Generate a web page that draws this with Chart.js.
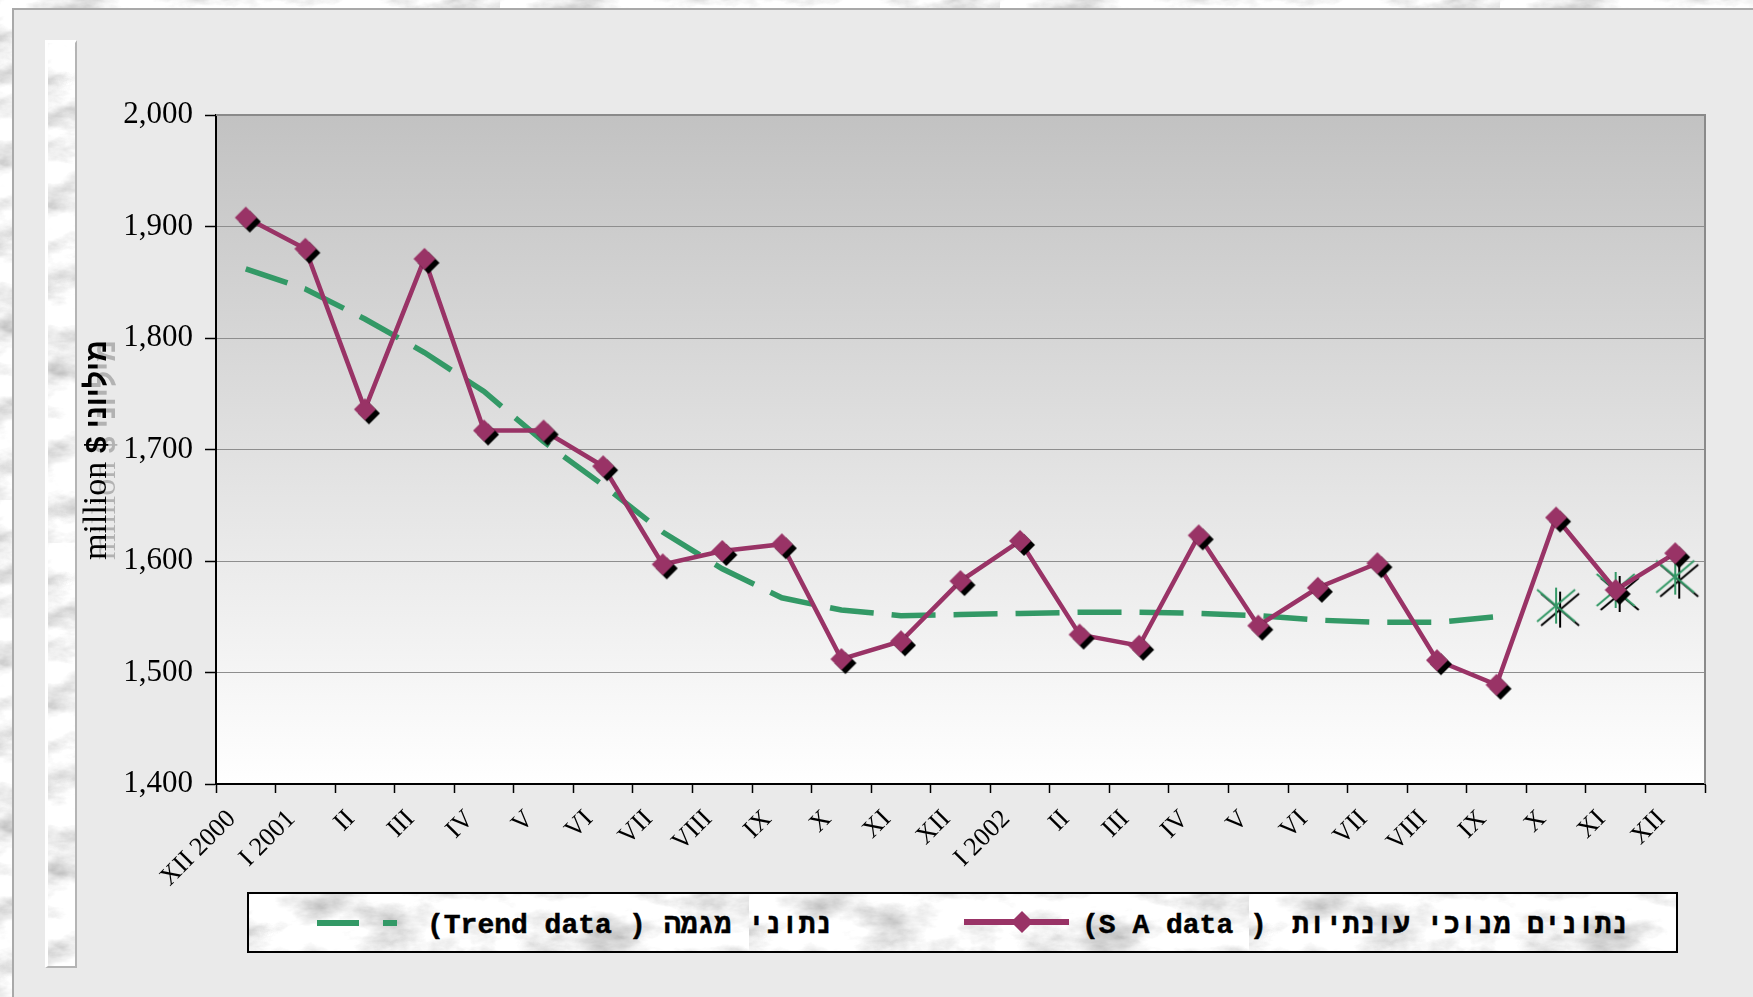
<!DOCTYPE html>
<html>
<head>
<meta charset="utf-8">
<script src="https://cdn.jsdelivr.net/npm/chart.js@4.4.0/dist/chart.umd.min.js"></script>
<style>
html, body { margin: 0; padding: 0; width: 1753px; height: 997px; overflow: hidden; background: #eaeaea; }
.marble { background-color: #d8d8d8; }
#stripL { position: absolute; left: 0; top: 0; width: 12px; height: 997px; }
#stripT { position: absolute; left: 0; top: 0; width: 1753px; height: 8px; }
#panel { position: absolute; left: 12px; top: 8px; right: 0; bottom: 0; border-left: 2px solid #a9a9a9; border-top: 2px solid #a9a9a9; background: #eaeaea; }
#bar { position: absolute; left: 45px; top: 40px; width: 27px; height: 923px; border-left: 3px solid #fff; border-top: 3px solid #fff; border-right: 2px solid #b4b4b4; border-bottom: 2px solid #b4b4b4; }
#legend { position: absolute; left: 247px; top: 892px; width: 1427px; height: 57px; border: 2px solid #000; }
#legend span { position: absolute; top: 3px; font: bold 28px "Liberation Mono", monospace; line-height: 57px; color: #000; white-space: pre; -webkit-text-stroke: 0.5px #000; }
#legend svg { position: absolute; }
#chart { position: absolute; left: 0; top: 0; }
</style>
</head>
<body>
<div id="stripL" class="marble"></div>
<div id="stripT" class="marble"></div>
<div id="panel"></div>
<div id="bar" class="marble"></div>
<div id="legend" class="marble">
  <svg style="left:68px;top:19px" width="82" height="20"><line x1="0" y1="10" x2="80" y2="10" stroke="#339966" stroke-width="6" stroke-dasharray="42 24"/></svg>
  <span id="lgTrendEn" style="left:178px"></span>
  <span style="left:380px">)</span>
  <span id="lgTrendHe" style="left:415px" dir="rtl"></span>
  <svg style="left:715px;top:13px" width="108" height="30"><line x1="0" y1="15" x2="105" y2="15" stroke="#993366" stroke-width="6"/><polygon points="58,4 69,15 58,26 47,15" fill="#993366"/></svg>
  <span id="lgSAEn" style="left:833px"></span>
  <span style="left:1001px">)</span>
  <span id="lgSAHe" style="left:1043px" dir="rtl"></span>
</div>
<canvas id="chart" width="1753" height="997"></canvas>
<script>
// נתונים
var months = ['XII 2000', 'I 2001', 'II', 'III', 'IV', 'V', 'VI', 'VII', 'VIII', 'IX', 'X', 'XI', 'XII',
              'I 2002', 'II', 'III', 'IV', 'V', 'VI', 'VII', 'VIII', 'IX', 'X', 'XI', 'XII'];
var saData = [1908, 1880, 1736, 1871, 1717, 1717, 1685, 1597, 1609, 1615, 1512, 1528, 1582,
              1618, 1534, 1524, 1623, 1542, 1576, 1598, 1511, 1489, 1639, 1574, 1607];
var trendData = [1862, 1844, 1817, 1787, 1752, 1707, 1668, 1626, 1593, 1567, 1556, 1551, 1552,
                 1553, 1554, 1554, 1553, 1551, 1547, 1545, 1545, 1550, null, null, null];
var trendLast = [null, null, null, null, null, null, null, null, null, null, null, null, null,
                 null, null, null, null, null, null, null, null, null, 1560, 1574, 1586];
var yTicks = {min: 1400, max: 2000, step: 100};
var trendLabel = ['(Trend data', 'נתוני מגמה'];
var saLabel = ['(S A data', 'נתונים מנוכי עונתיות'];
var yTitle = ['million ', '$ ', 'מיליוני'];

document.getElementById('lgTrendEn').textContent = trendLabel[0];
document.getElementById('lgTrendHe').textContent = trendLabel[1];
document.getElementById('lgSAEn').textContent = saLabel[0];
document.getElementById('lgSAHe').textContent = saLabel[1];

// רקע שיש
var svg = "<svg xmlns='http://www.w3.org/2000/svg' width='500' height='500'><filter id='f'>" +
  "<feTurbulence type='fractalNoise' baseFrequency='0.018 0.035' numOctaves='5' seed='11'/>" +
  "<feColorMatrix values='0.9 0.5 0.2 0 0.1 0.9 0.5 0.2 0 0.1 0.9 0.5 0.2 0 0.1 0 0 0 0 1'/>" +
  "</filter><rect width='500' height='500' filter='url(#f)'/></svg>";
var els = document.querySelectorAll('.marble');
for (var i = 0; i < els.length; i++) {
  els[i].style.backgroundImage = 'url("data:image/svg+xml,' + encodeURIComponent(svg) + '")';
}

// סמנים
function diamondImg() {
  var c = document.createElement('canvas');
  c.width = 40; c.height = 40;
  var g = c.getContext('2d');
  function d(cx, cy, r, col) {
    g.fillStyle = col;
    g.beginPath();
    g.moveTo(cx, cy - r); g.lineTo(cx + r, cy); g.lineTo(cx, cy + r); g.lineTo(cx - r, cy);
    g.closePath(); g.fill();
  }
  d(24, 24, 11, '#000');
  d(20, 20, 11, '#993366');
  return c;
}
function starImg() {
  var c = document.createElement('canvas');
  c.width = 52; c.height = 52;
  var g = c.getContext('2d');
  function s(cx, cy, col) {
    g.strokeStyle = col; g.lineWidth = 2;
    g.beginPath();
    g.moveTo(cx, cy - 18); g.lineTo(cx, cy + 18);
    g.moveTo(cx - 19, cy - 16); g.lineTo(cx + 19, cy + 16);
    g.moveTo(cx - 19, cy + 16); g.lineTo(cx + 19, cy - 16);
    g.stroke();
  }
  s(30, 30, '#000');
  s(26, 26, '#339966');
  return c;
}

var bgPlugin = {
  id: 'bg',
  beforeDraw: function(chart) {
    var a = chart.chartArea, ctx = chart.ctx;
    var grd = ctx.createLinearGradient(0, a.top, 0, a.bottom);
    grd.addColorStop(0, '#c2c2c2');
    grd.addColorStop(1, '#ffffff');
    ctx.save();
    ctx.fillStyle = grd;
    ctx.fillRect(a.left, a.top, a.right - a.left, a.bottom - a.top);
    ctx.restore();
  },
  beforeDatasetsDraw: function(chart) {
    var a = chart.chartArea, ctx = chart.ctx;
    ctx.save();
    ctx.strokeStyle = '#8a8a8a';
    ctx.lineWidth = 2;
    ctx.beginPath();
    ctx.moveTo(a.left, a.top); ctx.lineTo(a.right, a.top); ctx.lineTo(a.right, a.bottom);
    ctx.stroke();
    ctx.restore();
  },
  afterDraw: function(chart) {
    var ctx = chart.ctx;
    var fonts = ['34px "Liberation Serif"', 'bold 30px "Liberation Sans"', 'bold 30px "Liberation Sans"'];
    var total = 0, w = [];
    for (var i = 0; i < yTitle.length; i++) {
      ctx.font = fonts[i];
      w.push(ctx.measureText(yTitle[i]).width);
      total += w[i];
    }
    function put(dy, col) {
      ctx.save();
      ctx.translate(106, 450);
      ctx.rotate(-Math.PI / 2);
      ctx.fillStyle = col;
      ctx.textBaseline = 'alphabetic';
      var x = -total / 2;
      for (var j = 0; j < yTitle.length; j++) {
        ctx.font = fonts[j];
        ctx.fillText(yTitle[j], x, dy);
        x += w[j];
      }
      ctx.restore();
    }
    put(9, '#b2b2b2');
    put(0, '#000');
  }
};

var ctx = document.getElementById('chart');
var chart = new Chart(ctx, {
  type: 'line',
  data: {
    labels: months,
    datasets: [
      {
        label: trendLabel[0] + ' ) ' + trendLabel[1],
        data: trendData,
        borderColor: '#339966',
        borderWidth: 5.5,
        borderDash: [44, 18],
        pointRadius: 0,
        fill: false,
        order: 2
      },
      {
        label: saLabel[0] + ' ) ' + saLabel[1],
        data: saData,
        borderColor: '#993366',
        backgroundColor: '#993366',
        borderWidth: 4.5,
        pointStyle: diamondImg(),
        pointRadius: 11,
        fill: false,
        order: 0
      },
      {
        label: 'trend end',
        data: trendLast,
        showLine: false,
        pointStyle: starImg(),
        pointRadius: 12,
        order: 1
      }
    ]
  },
  options: {
    responsive: false,
    animation: false,
    events: [],
    locale: 'en-US',
    layout: { padding: { left: 0, right: 48, top: 115, bottom: 0 } },
    plugins: { legend: { display: false }, tooltip: { enabled: false } },
    scales: {
      x: {
        offset: true,
        grid: { offset: true, drawOnChartArea: false, tickLength: 9, tickColor: '#000', tickWidth: 1.5 },
        border: { color: '#000', width: 2 },
        ticks: {
          autoSkip: false, maxRotation: 45, minRotation: 45, padding: 11, labelOffset: -14, color: '#000',
          font: { family: '"Liberation Serif"', size: 26 }
        },
        afterFit: function(s) { s.height = 213; }
      },
      y: {
        min: yTicks.min,
        max: yTicks.max,
        ticks: {
          stepSize: yTicks.step, padding: 12, color: '#000',
          font: { family: '"Liberation Serif"', size: 31 }
        },
        grid: { color: '#8e8e8e', lineWidth: 1, tickLength: 11, tickColor: '#000', tickWidth: 1.5 },
        border: { color: '#000', width: 2 },
        afterFit: function(s) { s.width = 216; }
      }
    }
  },
  plugins: [bgPlugin]
});
</script>
</body>
</html>
